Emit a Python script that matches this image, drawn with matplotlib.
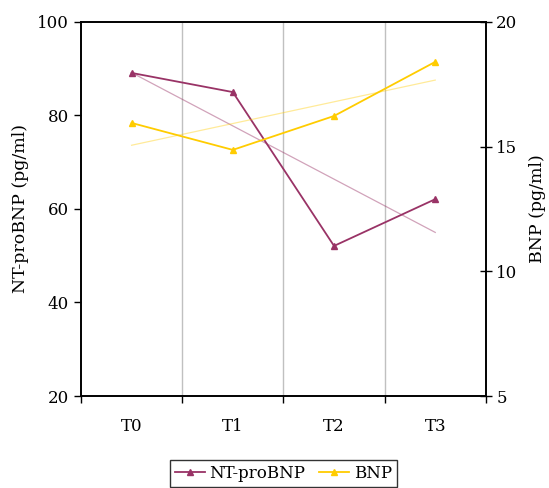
import numpy as np
import matplotlib
matplotlib.use('Agg')
import matplotlib.pyplot as plt

# --- Dados ---
categorias = ['T0', 'T1', 'T2', 'T3']
nt_probnp = [89.1, 85.0, 52.1, 62.1]   # pg/ml, eixo esquerdo
bnp = [15.95, 14.87, 16.23, 18.4]      # pg/ml, eixo direito

COR_NT = '#993366'
COR_BNP = '#FFCC00'

plt.rcParams['font.family'] = ['DejaVu Serif']
plt.rcParams['font.size'] = 12

fig = plt.figure(figsize=(5.49, 4.88), dpi=100)
ax = fig.add_axes([0.1475, 0.1885, 0.7375, 0.7665])
ax2 = ax.twinx()

x = np.arange(len(categorias))

# Linhas de tendência (regressão linear)
p_nt = np.polyfit(x, nt_probnp, 1)
p_bnp = np.polyfit(x, bnp, 1)
ax.plot(x, np.polyval(p_nt, x), color=COR_NT, alpha=0.45, lw=0.9, zorder=2)
ax2.plot(x, np.polyval(p_bnp, x), color=COR_BNP, alpha=0.4, lw=0.9, zorder=2)

l1, = ax.plot(x, nt_probnp, color=COR_NT, marker='^', ms=5, lw=1.3, label='NT-proBNP', zorder=3)
l2, = ax2.plot(x, bnp, color=COR_BNP, marker='^', ms=5, lw=1.3, label='BNP', zorder=3)

ax.set_xlim(-0.5, 3.5)
ax.set_ylim(20, 100)
ax.set_yticks([20, 40, 60, 80, 100])
ax2.set_ylim(5, 20)
ax2.set_yticks([5, 10, 15, 20])

# Grade vertical nas fronteiras das categorias
ax.set_xticks(x)
ax.set_xticklabels(categorias)
ax.set_xticks([-0.5, 0.5, 1.5, 2.5, 3.5], minor=True)
ax.tick_params(axis='x', which='major', length=0, pad=16)
ax.tick_params(axis='x', which='minor', length=5, direction='out', width=1)
for b in [0.5, 1.5, 2.5]:
    ax.axvline(b, color='#c0c0c0', lw=1, zorder=1)

ax.tick_params(axis='y', direction='out', length=5, width=1)
ax2.tick_params(axis='y', direction='inout', length=8, width=1)

for a in (ax, ax2):
    for s in a.spines.values():
        s.set_linewidth(1.2)
        s.set_color('black')

ax.set_ylabel('NT-proBNP (pg/ml)', fontsize=12.5, labelpad=6)
ax2.set_ylabel('BNP (pg/ml)', fontsize=12.5, rotation=90, labelpad=8)

leg = fig.legend(handles=[l1, l2], loc='upper center', bbox_to_anchor=(0.516, 0.074),
                 ncol=2, frameon=True, fancybox=False, edgecolor='black',
                 handlelength=1.8, columnspacing=0.8, handletextpad=0.3, borderpad=0.3)
leg.get_frame().set_linewidth(1.0)

fig.savefig('out.png', dpi=100)
